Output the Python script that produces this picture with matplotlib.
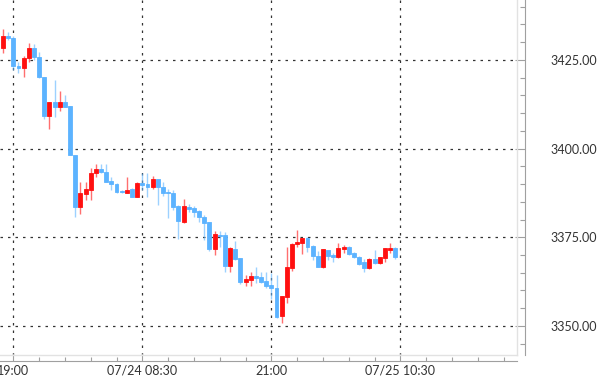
import matplotlib
matplotlib.use("Agg")
import matplotlib.pyplot as plt
import numpy as np
from matplotlib.ticker import MultipleLocator, FixedLocator, FixedFormatter

# OHLC (one candle per slot)
opens = [3428.4, 3431.8, 3431.2, 3423.3, 3422.7, 3425.5, 3428.4, 3425.8, 3420.2, 3409.2,
         3413.1, 3411.7, 3413.1, 3412.0, 3398.2, 3383.5, 3387.2, 3388.3, 3393.1, 3394.2,
         3393.4, 3390.9, 3390.0, 3388.0, 3387.5, 3388.6, 3386.3, 3390.3, 3390.0, 3389.2,
         3391.4, 3389.2, 3387.8, 3387.5, 3383.8, 3379.3, 3383.5, 3383.2, 3382.4, 3380.7,
         3379.3, 3371.7, 3375.6, 3375.6, 3366.9, 3371.7, 3369.1, 3362.4, 3362.9, 3364.1,
         3363.8, 3362.7, 3361.5, 3360.7, 3352.8, 3358.2, 3366.3, 3373.1, 3373.4, 3374.8,
         3372.5, 3369.7, 3366.6, 3371.4, 3370.0, 3369.4, 3371.7, 3372.2, 3370.6, 3369.4,
         3368.0, 3366.3, 3368.9, 3367.7, 3369.1, 3371.4, 3372.0]
highs = [3433.7, 3432.9, 3431.8, 3424.4, 3426.1, 3429.8, 3429.5, 3427.2, 3420.2, 3413.1,
         3419.3, 3416.2, 3415.1, 3412.0, 3398.2, 3390.6, 3390.6, 3394.5, 3395.7, 3395.7,
         3395.7, 3392.0, 3390.3, 3388.3, 3392.0, 3388.9, 3390.6, 3393.1, 3393.1, 3392.3,
         3391.4, 3390.6, 3388.6, 3388.3, 3384.1, 3385.8, 3384.4, 3383.8, 3382.7, 3381.3,
         3379.3, 3376.8, 3376.8, 3376.5, 3372.2, 3373.9, 3369.1, 3364.4, 3365.2, 3366.6,
         3365.2, 3365.2, 3364.9, 3364.4, 3358.4, 3372.2, 3373.4, 3377.0, 3374.8, 3375.1,
         3372.8, 3371.1, 3371.7, 3371.4, 3370.6, 3373.4, 3372.8, 3372.5, 3370.8, 3369.7,
         3368.9, 3369.1, 3371.4, 3369.4, 3372.0, 3373.4, 3372.2]
lows = [3427.0, 3430.6, 3422.2, 3421.3, 3420.2, 3424.4, 3425.0, 3419.9, 3408.3, 3405.5,
        3408.9, 3410.6, 3411.7, 3398.2, 3380.7, 3381.5, 3385.5, 3385.5, 3392.0, 3393.1,
        3390.6, 3388.3, 3387.5, 3387.5, 3387.5, 3386.3, 3386.3, 3388.3, 3386.3, 3388.6,
        3384.1, 3386.6, 3380.4, 3382.7, 3374.5, 3379.0, 3382.1, 3380.7, 3379.3, 3374.2,
        3371.1, 3370.0, 3372.2, 3365.2, 3365.2, 3368.6, 3361.8, 3361.3, 3361.3, 3362.1,
        3362.1, 3360.7, 3357.6, 3352.2, 3350.8, 3356.5, 3365.5, 3372.2, 3370.3, 3370.8,
        3368.6, 3366.6, 3366.3, 3368.6, 3368.0, 3369.1, 3370.6, 3370.0, 3369.1, 3367.2,
        3365.2, 3366.0, 3367.5, 3367.5, 3368.0, 3370.6, 3368.9]
closes = [3431.8, 3431.2, 3423.3, 3422.7, 3425.5, 3428.4, 3425.8, 3420.2, 3409.2, 3413.1,
          3411.7, 3413.1, 3411.7, 3398.2, 3383.5, 3387.5, 3388.6, 3393.1, 3394.2, 3393.4,
          3390.6, 3390.0, 3387.8, 3387.8, 3388.3, 3386.3, 3390.3, 3389.7, 3389.2, 3391.4,
          3389.2, 3387.5, 3387.5, 3383.5, 3379.6, 3383.8, 3383.0, 3382.1, 3380.7, 3379.0,
          3371.7, 3375.9, 3375.3, 3366.9, 3372.0, 3368.9, 3362.4, 3363.2, 3364.1, 3363.5,
          3362.4, 3361.3, 3360.7, 3352.5, 3358.4, 3366.6, 3373.1, 3373.7, 3374.8, 3372.2,
          3369.7, 3366.6, 3371.7, 3369.7, 3369.4, 3372.0, 3372.2, 3370.3, 3369.4, 3367.5,
          3366.3, 3368.9, 3367.7, 3369.4, 3372.0, 3372.0, 3369.4]

x_tick_pos = [2, 27, 52, 77]
x_tick_labels = ["19:00", "07/24 08:30", "21:00", "07/25 10:30"]
y_ticks = [3350, 3375, 3400, 3425]

UP = "#ff1010"
DOWN = "#5cb3ff"

plt.rcParams['font.family'] = ['Lato', 'DejaVu Sans']

fig = plt.figure(figsize=(6, 3.81), dpi=100)
ax = fig.add_axes([0, 26 / 381, 517 / 600, 355 / 381])

o = np.array(opens)
h = np.array(highs)
l = np.array(lows)
c = np.array(closes)
x = np.arange(len(o))
colors = [UP if cc >= oo else DOWN for oo, cc in zip(o, c)]

# wicks
ax.vlines(x, l, h, colors=colors, linewidth=1, alpha=0.6, zorder=2)
# bodies
bottom = np.minimum(o, c)
height = np.maximum(np.abs(c - o), 0.35)
ax.bar(x, height, bottom=bottom, width=0.76, color=colors,
       edgecolor=colors, linewidth=0.6, zorder=3)

ax.set_xlim(-0.58, 99.6)
ax.set_ylim(3341.8, 3441.9)

# grid
ax.xaxis.set_major_locator(FixedLocator(x_tick_pos))
ax.xaxis.set_major_formatter(FixedFormatter(x_tick_labels))
ax.xaxis.set_minor_locator(MultipleLocator(5, offset=2))
ax.yaxis.set_major_locator(FixedLocator(y_ticks))
ax.yaxis.set_minor_locator(MultipleLocator(5))
ax.yaxis.set_major_formatter(matplotlib.ticker.FormatStrFormatter('%.2f'))
ax.grid(True, which='major', linestyle=(0, (2, 4)), color='#333333', linewidth=0.9)
ax.set_axisbelow(True)

# spines / axes
for s in ['left', 'top']:
    ax.spines[s].set_visible(False)
ax.spines['right'].set_position(('outward', 5.8))
ax.spines['bottom'].set_position(('outward', 4.5))
ax.spines['right'].set_color('#a0a0a0')
ax.spines['bottom'].set_color('#a0a0a0')
# light plot frame
ax.plot([1, 1], [0, 1], transform=ax.transAxes, color='#e2e2e2', lw=1, clip_on=False)
ax.plot([0, 1], [0, 0], transform=ax.transAxes, color='#e2e2e2', lw=1, clip_on=False)

ax.yaxis.tick_right()
ax.tick_params(axis='y', which='major', direction='in', length=7, width=0.8,
               color='#a0a0a0', labelsize=9, labelcolor='#333333', pad=18.5)
ax.tick_params(axis='y', which='minor', direction='in', length=3.6, width=0.8,
               color='#a0a0a0')
ax.tick_params(axis='x', which='major', direction='in', length=6, width=0.8,
               color='#a0a0a0', labelsize=9, labelcolor='#333333', pad=2.5)
ax.tick_params(axis='x', which='minor', direction='in', length=3.2, width=0.8,
               color='#a0a0a0')

fig.savefig("out.png", dpi=100)
